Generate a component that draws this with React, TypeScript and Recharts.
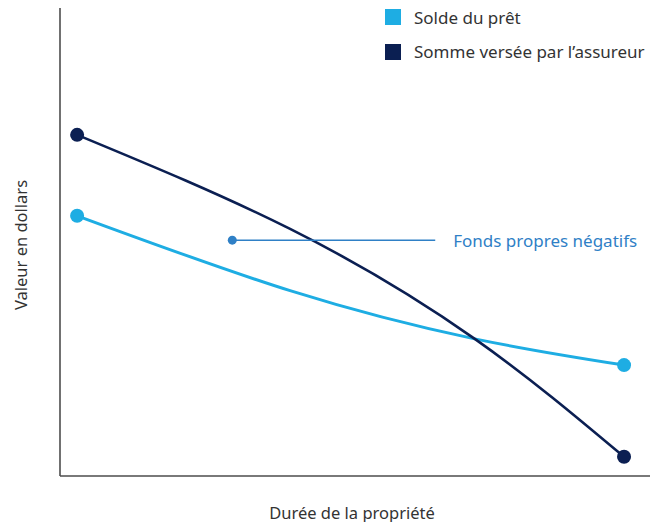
import { LineChart, Line, XAxis, YAxis, ReferenceLine, ReferenceDot, Label } from "recharts";

// durée (échelle relative 0-100) et valeurs relatives
const durations = [2.9, 39.0, 70.3, 95.6];
const loanBalance = [55.6, 39.6, 29.3, 23.7];
const insurerPaid = [72.9, 52.8, 29.3, 4.1];

const seriesNames = ["Solde du prêt", "Somme versée par l’assureur"];
const xTitle = "Durée de la propriété";
const yTitle = "Valeur en dollars";
const noteText = "Fonds propres négatifs";
const notePoint = { x: 29.2, y: 50.4 };
const noteEnd = 63.6;

const LIGHT = "#1eade3";
const DARK = "#0b1f52";
const NOTE = "#2f80c6";
const FONT = "'Noto Sans', sans-serif";

const data = durations.map((d, i) => ({
  x: d,
  solde: loanBalance[i],
  assureur: insurerPaid[i],
}));

const endDot = (color: string) => (props: any) => {
  const { cx, cy, index } = props;
  if (index !== 0 && index !== data.length - 1) return <g key={`d${index}`} />;
  return <circle key={`d${index}`} cx={cx} cy={cy} r={7} fill={color} />;
};

export default function App() {
  return (
    <div style={{ position: "absolute", left: 0, top: 0, fontFamily: FONT }}>
      <LineChart width={650} height={522} data={data} margin={{ top: 8, right: 0, left: 0, bottom: 0 }}>
        <XAxis
          type="number"
          dataKey="x"
          domain={[0, 100]}
          height={46}
          tick={false}
          tickLine={false}
          axisLine={{ stroke: "#4d4d4d", strokeWidth: 1.6 }}
        >
          <Label
            content={(p: any) => (
              <text
                x={p.viewBox.x + p.viewBox.width / 2 - 3}
                y={512}
                textAnchor="middle"
                dominantBaseline="central"
                fontSize={16.5}
                fill="#333"
                fontFamily={FONT}
              >
                {xTitle}
              </text>
            )}
          />
        </XAxis>
        <YAxis
          type="number"
          domain={[0, 100]}
          width={60}
          tick={false}
          tickLine={false}
          axisLine={{ stroke: "#4d4d4d", strokeWidth: 1.6 }}
        >
          <Label
            content={() => (
              <text
                x={20}
                y={245}
                textAnchor="middle"
                dominantBaseline="central"
                transform="rotate(-90 20 245)"
                fontSize={16.5}
                fill="#333"
                fontFamily={FONT}
              >
                {yTitle}
              </text>
            )}
          />
        </YAxis>
        <Line
          type="natural"
          dataKey="solde"
          stroke={LIGHT}
          strokeWidth={3}
          dot={endDot(LIGHT)}
          activeDot={false}
          isAnimationActive={false}
        />
        <Line
          type="natural"
          dataKey="assureur"
          stroke={DARK}
          strokeWidth={2.6}
          dot={endDot(DARK)}
          activeDot={false}
          isAnimationActive={false}
        />
        <ReferenceLine
          segment={[
            { x: notePoint.x, y: notePoint.y },
            { x: noteEnd, y: notePoint.y },
          ]}
          stroke={NOTE}
          strokeWidth={1.5}
          label={(p: any) => (
            <text
              x={p.viewBox.x + p.viewBox.width + 18}
              y={p.viewBox.y}
              dominantBaseline="central"
              fontSize={17}
              fill={NOTE}
              fontFamily={FONT}
            >
              {noteText}
            </text>
          )}
        />
        <ReferenceDot x={notePoint.x} y={notePoint.y} r={4.5} fill={NOTE} stroke="none" />
      </LineChart>
      <div style={{ position: "absolute", left: 385, top: 0 }}>
        {seriesNames.map((name, i) => (
          <div
            key={name}
            style={{ display: "flex", alignItems: "center", height: 34.5, fontSize: 17, color: "#333" }}
          >
            <span
              style={{
                width: 16,
                height: 16,
                background: i === 0 ? LIGHT : DARK,
                marginRight: 13,
                display: "inline-block",
              }}
            />
            {name}
          </div>
        ))}
      </div>
    </div>
  );
}
